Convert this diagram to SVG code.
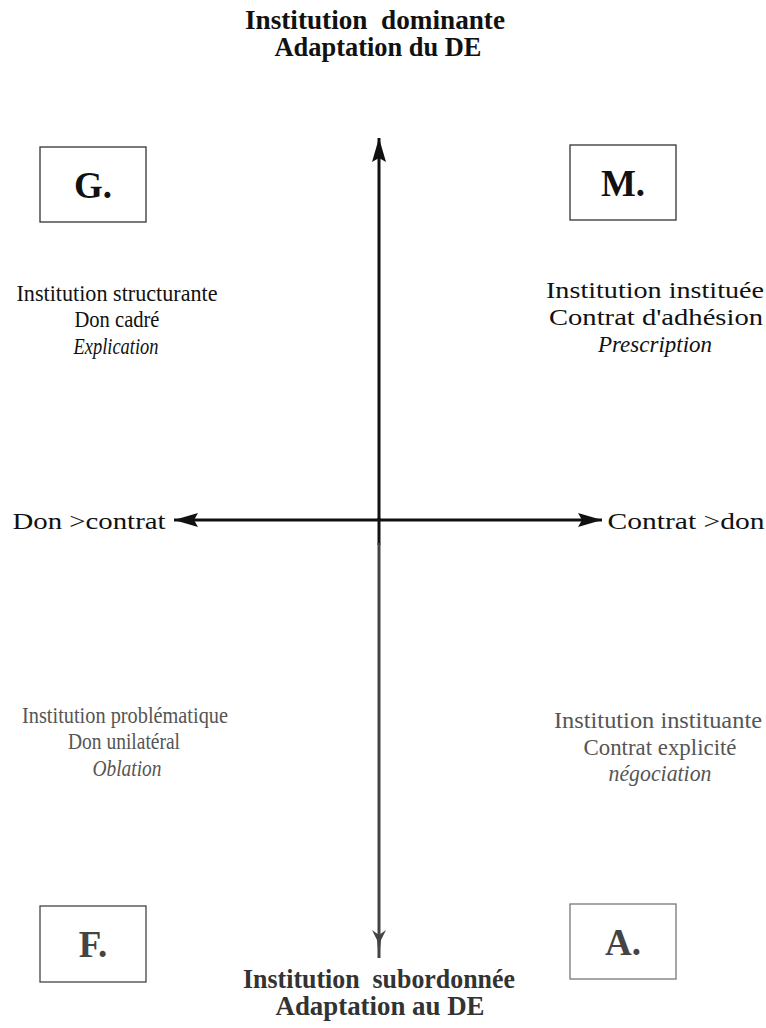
<svg xmlns="http://www.w3.org/2000/svg" width="766" height="1028" viewBox="0 0 766 1028">
<style>
.t{font-family:"Liberation Serif",serif;font-size:23px;text-anchor:middle;fill:#111}
.g{fill:#555}
.b{font-weight:bold;font-size:27px}
.i{font-style:italic}
.lab{font-family:"Liberation Serif",serif;font-weight:bold;font-size:37px;text-anchor:middle;fill:#111}
.box{fill:#fff;stroke:#333;stroke-width:1.3}
.ax{stroke:#111;stroke-width:3;fill:none}
</style>
<defs>
<marker id="ah" viewBox="0 0 24 14" refX="24" refY="7" markerWidth="24" markerHeight="14" markerUnits="userSpaceOnUse" orient="auto">
<path d="M0,0 L24,7 L0,14 L4,7 Z" fill="#111"/>
</marker>
<marker id="ahg" viewBox="0 0 28 14" refX="28" refY="7" markerWidth="28" markerHeight="14" markerUnits="userSpaceOnUse" orient="auto">
<path d="M0,0 L10,5 L28,7 L10,9 L0,14 L5,7 Z" fill="#444"/>
</marker>
</defs>
<g id="top-title">
<text class="t b" x="375" y="29" textLength="260" lengthAdjust="spacingAndGlyphs">Institution&#160; dominante</text>
<text class="t b" x="378" y="56" textLength="207" lengthAdjust="spacingAndGlyphs">Adaptation du DE</text>
</g>
<g id="bottom-title">
<text class="t b" x="379" y="988" style="fill:#333" textLength="272" lengthAdjust="spacingAndGlyphs">Institution&#160; subordonnée</text>
<text class="t b" x="380" y="1015" style="fill:#333" textLength="209" lengthAdjust="spacingAndGlyphs">Adaptation au DE</text>
</g>
<g id="connectors">
<line class="ax" x1="379" y1="520" x2="379" y2="138" marker-end="url(#ah)"/>
<line class="ax" x1="379" y1="518" x2="379" y2="545"/>
<line x1="379" y1="543" x2="379" y2="958" stroke="#444" stroke-width="3" marker-end="url(#ahg)"/>
<line class="ax" x1="379" y1="520" x2="174" y2="520" marker-end="url(#ah)"/>
<line class="ax" x1="379" y1="520" x2="602" y2="520" marker-end="url(#ah)"/>
</g>
<g id="node-G">
<rect class="box" x="40" y="147" width="106" height="75"/>
<text class="lab" x="93" y="198">G.</text>
</g>
<g id="node-M">
<rect class="box" x="570" y="145" width="106" height="75"/>
<text class="lab" x="623" y="196">M.</text>
</g>
<g id="node-F">
<rect class="box" x="40" y="906" width="106" height="76" style="stroke:#444"/>
<text class="lab" x="93" y="957" style="fill:#444">F.</text>
</g>
<g id="node-A">
<rect class="box" x="570" y="904" width="106" height="75" style="stroke:#777"/>
<text class="lab" x="623" y="955" style="fill:#444">A.</text>
</g>
<g id="label-left">
<text class="t" x="89" y="529" font-size="26" textLength="153" lengthAdjust="spacingAndGlyphs">Don &gt;contrat</text>
</g>
<g id="label-right">
<text class="t" x="686" y="529" font-size="26" textLength="157" lengthAdjust="spacingAndGlyphs">Contrat &gt;don</text>
</g>
<g id="q-G">
<text class="t" x="117" y="301" textLength="201" lengthAdjust="spacingAndGlyphs">Institution structurante</text>
<text class="t" x="117" y="327" textLength="85" lengthAdjust="spacingAndGlyphs">Don cadré</text>
<text class="t i" x="116" y="354" textLength="85" lengthAdjust="spacingAndGlyphs">Explication</text>
</g>
<g id="q-M">
<text class="t" x="655" y="298" textLength="218" lengthAdjust="spacingAndGlyphs">Institution instituée</text>
<text class="t" x="656" y="325" textLength="214" lengthAdjust="spacingAndGlyphs">Contrat d'adhésion</text>
<text class="t i" x="655" y="352" textLength="114" lengthAdjust="spacingAndGlyphs">Prescription</text>
</g>
<g id="q-F">
<text class="t g" x="125" y="723" textLength="206" lengthAdjust="spacingAndGlyphs">Institution problématique</text>
<text class="t g" x="124" y="749" textLength="112" lengthAdjust="spacingAndGlyphs">Don unilatéral</text>
<text class="t g i" x="127" y="776" textLength="69" lengthAdjust="spacingAndGlyphs">Oblation</text>
</g>
<g id="q-A">
<text class="t g" x="658" y="728" textLength="208" lengthAdjust="spacingAndGlyphs">Institution instituante</text>
<text class="t g" x="660" y="755" textLength="153" lengthAdjust="spacingAndGlyphs">Contrat explicité</text>
<text class="t g i" x="660" y="781" textLength="103" lengthAdjust="spacingAndGlyphs">négociation</text>
</g>
</svg>
